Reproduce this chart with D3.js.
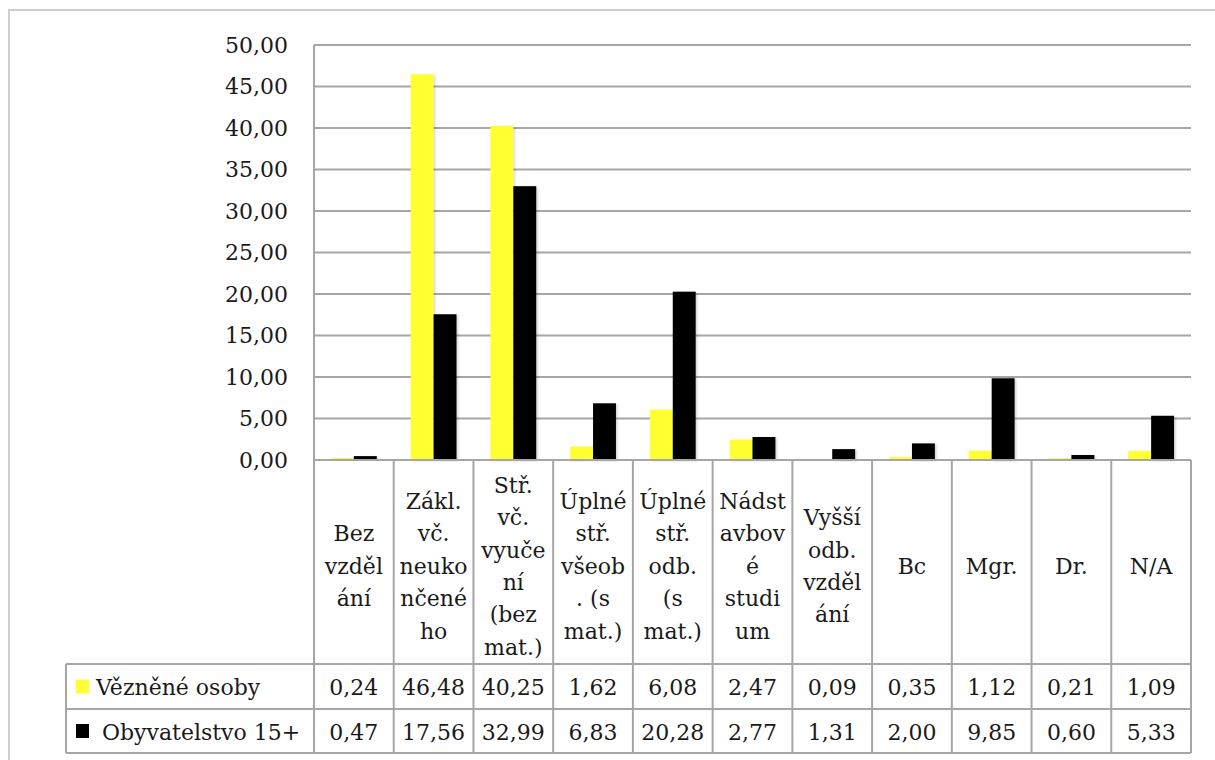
<!DOCTYPE html>
<html>
<head>
<meta charset="utf-8">
<script src="https://cdn.jsdelivr.net/npm/d3@7"></script>
<style>
  body { margin: 0; background: #fff; }
  text { font-family: "DejaVu Serif", serif; fill: #1a1a1a; }
</style>
</head>
<body>
<script>
// categories, already broken into lines as in the data table header
let categories = [
  ["Bez", "vzděl", "ání"],
  ["Zákl.", "vč.", "neuko", "nčené", "ho"],
  ["Stř.", "vč.", "vyuče", "ní", "(bez", "mat.)"],
  ["Úplné", "stř.", "všeob", ". (s", "mat.)"],
  ["Úplné", "stř.", "odb.", "(s", "mat.)"],
  ["Nádst", "avbov", "é", "studi", "um"],
  ["Vyšší", "odb.", "vzděl", "ání"],
  ["Bc"],
  ["Mgr."],
  ["Dr."],
  ["N/A"]
];
let seriesNames = ["Vězněné osoby", "Obyvatelstvo 15+"];
let vezneni = [0.24, 46.48, 40.25, 1.62, 6.08, 2.47, 0.09, 0.35, 1.12, 0.21, 1.09];
let obyvatelstvo = [0.47, 17.56, 32.99, 6.83, 20.28, 2.77, 1.31, 2.00, 9.85, 0.60, 5.33];
let yTicks = [0, 5, 10, 15, 20, 25, 30, 35, 40, 45, 50];

let colors = ["#ffff33", "#000000"];
let seriesValues = [vezneni, obyvatelstvo];

let width = 1215, height = 760;
let plotLeft = 314, plotRight = 1191, plotTop = 45, plotBottom = 460;
let legendLeft = 66;
let row1Top = 664, row2Top = 709, tableBottom = 753;
let lineCol = "#a6a6a6";

let locale = d3.formatLocale({decimal: ",", thousands: " ", grouping: [3], currency: ["", ""]});
let fmt = locale.format(".2f");

let svg = d3.select("body").append("svg")
  .attr("width", width)
  .attr("height", height);

// outer chart border
svg.append("path")
  .attr("d", "M9," + height + " V10 H" + width)
  .attr("fill", "none")
  .attr("stroke", "#cfcfcf")
  .attr("stroke-width", 2);

let idx = d3.range(categories.length);
let x = d3.scaleBand().domain(idx).range([plotLeft, plotRight]).padding(0);
let xSub = d3.scaleBand().domain([0, 1]).range([0, x.bandwidth()]).paddingInner(0).paddingOuter(0.74);
let y = d3.scaleLinear().domain([0, 50]).range([plotBottom, plotTop]);

// gridlines
svg.append("g").selectAll("line")
  .data(yTicks)
  .enter()
  .append("line")
  .attr("x1", plotLeft)
  .attr("x2", plotRight)
  .attr("y1", function(d) { return y(d); })
  .attr("y2", function(d) { return y(d); })
  .attr("stroke", lineCol)
  .attr("stroke-width", 2);

// y axis labels
let yAxis = d3.axisLeft(y).tickValues(yTicks).tickFormat(fmt).tickSize(0).tickPadding(26);
let yg = svg.append("g")
  .attr("transform", "translate(" + plotLeft + ",0)")
  .call(yAxis);
yg.select(".domain").remove();
yg.selectAll("text")
  .attr("font-family", "DejaVu Serif, serif")
  .attr("font-size", "22px")
  .attr("fill", "#1a1a1a");

// shadow filter for bars
let defs = svg.append("defs");
let f = defs.append("filter").attr("id", "sh").attr("x", "-20%").attr("y", "-5%").attr("width", "150%").attr("height", "115%");
f.append("feDropShadow").attr("dx", 1.5).attr("dy", 1).attr("stdDeviation", 1.2).attr("flood-color", "#000").attr("flood-opacity", 0.18);

// bars
seriesValues.forEach(function(vals, s) {
  svg.append("g").selectAll("rect")
    .data(vals)
    .enter()
    .append("rect")
    .attr("x", function(d, i) { return x(i) + xSub(s); })
    .attr("y", function(d) { return y(d); })
    .attr("width", xSub.bandwidth())
    .attr("height", function(d) { return plotBottom - y(d); })
    .attr("fill", colors[s])
    .attr("filter", "url(#sh)");
});

// redraw baseline over bars
svg.append("line")
  .attr("x1", plotLeft).attr("x2", plotRight)
  .attr("y1", plotBottom).attr("y2", plotBottom)
  .attr("stroke", lineCol).attr("stroke-width", 2);

// table grid
let tg = svg.append("g").attr("stroke", lineCol).attr("stroke-width", 2);
// column separators
idx.concat([categories.length]).forEach(function(i) {
  let xx = i < categories.length ? x(i) : plotRight;
  tg.append("line")
    .attr("x1", xx).attr("x2", xx)
    .attr("y1", i == 0 ? plotTop : plotBottom)
    .attr("y2", tableBottom);
});
tg.append("line").attr("x1", legendLeft).attr("x2", legendLeft).attr("y1", row1Top).attr("y2", tableBottom);
[row1Top, row2Top, tableBottom].forEach(function(yy) {
  tg.append("line").attr("x1", legendLeft).attr("x2", plotRight).attr("y1", yy).attr("y2", yy);
});

// header labels
let lineH = 32.4;
let headerMid = 566;
categories.forEach(function(lines, i) {
  let t = svg.append("text")
    .attr("text-anchor", "middle")
    .attr("font-size", "22px");
  let start = headerMid - (lines.length - 1) * lineH / 2;
  lines.forEach(function(l, k) {
    t.append("tspan")
      .attr("x", x(i) + x.bandwidth() / 2)
      .attr("y", start + k * lineH)
      .attr("dy", "0.35em")
      .text(l);
  });
});

// value rows
let rowMid = [(row1Top + row2Top) / 2 + 1, (row2Top + tableBottom) / 2 + 1];
seriesValues.forEach(function(vals, s) {
  svg.append("g").selectAll("text")
    .data(vals)
    .enter()
    .append("text")
    .attr("x", function(d, i) { return x(i) + x.bandwidth() / 2; })
    .attr("y", rowMid[s])
    .attr("dy", "0.35em")
    .attr("text-anchor", "middle")
    .attr("font-size", "22px")
    .text(function(d) { return fmt(d); });
});

// legend keys
let keyX = [96, 102];
seriesNames.forEach(function(name, s) {
  svg.append("rect")
    .attr("x", 76).attr("y", rowMid[s] - 8)
    .attr("width", 13).attr("height", 14)
    .attr("fill", colors[s]);
  svg.append("text")
    .attr("x", keyX[s]).attr("y", rowMid[s])
    .attr("dy", "0.35em")
    .attr("font-size", "22px")
    .text(name);
});
</script>
</body>
</html>
